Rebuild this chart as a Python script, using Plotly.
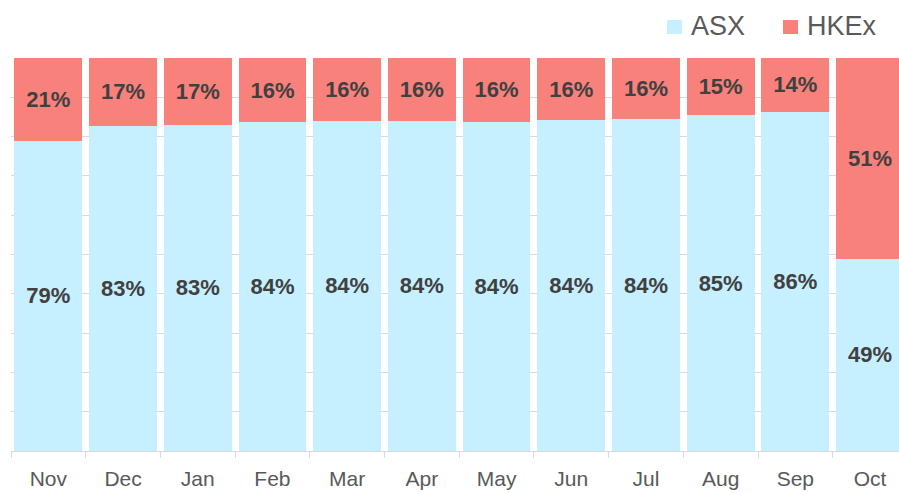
import plotly.graph_objects as go

months = ["Nov", "Dec", "Jan", "Feb", "Mar", "Apr", "May", "Jun", "Jul", "Aug", "Sep", "Oct"]
asx = [78.9, 82.8, 83.0, 83.6, 84.0, 84.0, 83.8, 84.2, 84.4, 85.4, 86.3, 48.9]
hkex = [21.1, 17.2, 17.0, 16.4, 16.0, 16.0, 16.2, 15.8, 15.6, 14.6, 13.7, 51.1]
series_names = ["ASX", "HKEx"]

ASX_COLOR = "#C6EFFF"
HKEX_COLOR = "#F8827B"
TEXT_DARK = "#404040"
TEXT_GRAY = "#595959"
FONT = "Arial, Liberation Sans, sans-serif"

W, H = 899, 493
L, R, T, B = 11, 0, 58, 42
PW, PH = W - L - R, H - T - B

fig = go.Figure()
for name, vals, col in [(series_names[0], asx, ASX_COLOR), (series_names[1], hkex, HKEX_COLOR)]:
    fig.add_trace(go.Bar(
        x=months, y=vals, name=name, marker=dict(color=col, line=dict(width=0)),
        texttemplate="<b>%{y:.0f}%</b>", textposition="inside", insidetextanchor="middle",
        textangle=0, constraintext="none",
        textfont=dict(family=FONT, size=22, color=TEXT_DARK),
        showlegend=False, cliponaxis=True, hoverinfo="skip",
    ))

cat_w = 74.7
x_end = -0.5 + PW / cat_w

fig.update_layout(
    barmode="stack", bargap=0.093,
    width=W, height=H, margin=dict(l=L, r=R, t=T, b=B),
    plot_bgcolor="white", paper_bgcolor="white",
    font=dict(family=FONT, color=TEXT_GRAY),
    xaxis=dict(range=[-0.5, x_end], tickson="boundaries", ticks="outside", ticklen=6,
               tickcolor="#D9D9D9", showline=True, linecolor="#D9D9D9", linewidth=1,
               tickfont=dict(family=FONT, size=21, color=TEXT_GRAY), ticklabelstandoff=9,
               showgrid=False),
    yaxis=dict(range=[0, 100], dtick=10, showgrid=True, gridcolor="#D9D9D9", gridwidth=1,
               showticklabels=False, zeroline=False, showline=False),
)

def px(xp):
    return (xp - L) / PW

def py(yp):
    return (H - B - yp) / PH

legend_items = [(series_names[0], ASX_COLOR, 667, 689), (series_names[1], HKEX_COLOR, 783, 805)]
for name, col, sx, tx in legend_items:
    fig.add_shape(type="rect", xref="paper", yref="paper",
                  x0=px(sx), x1=px(sx + 15), y0=py(34), y1=py(20),
                  fillcolor=col, line=dict(width=0))
    fig.add_annotation(xref="paper", yref="paper", x=px(tx), y=py(26.5), text=name,
                       showarrow=False, xanchor="left", yanchor="middle",
                       font=dict(family=FONT, size=27, color=TEXT_GRAY))

fig.write_html("out.html", config={"displayModeBar": False},
               post_script="document.body.style.margin='0';document.body.style.overflow='hidden';")
